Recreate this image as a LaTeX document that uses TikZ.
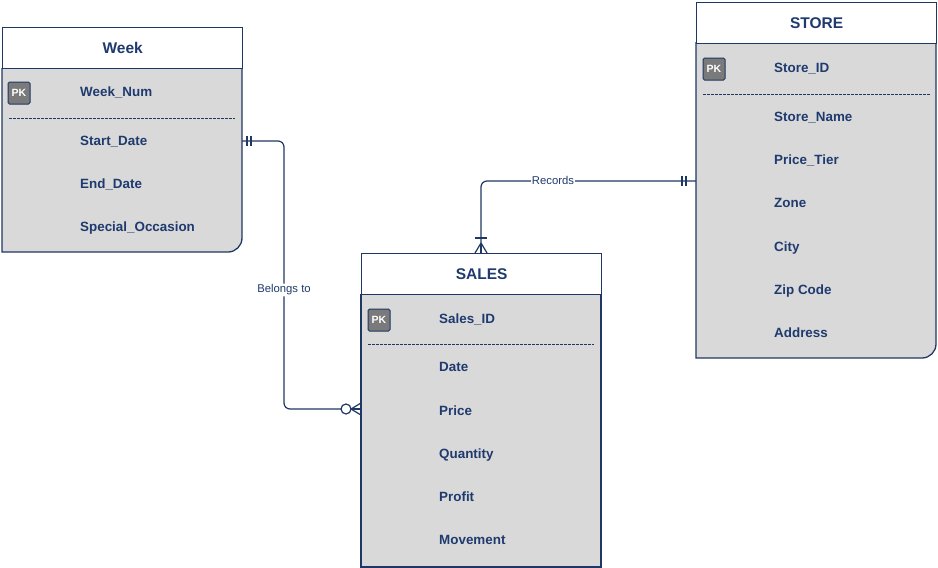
\documentclass[tikz,border=0pt]{standalone}
\usepackage{fontspec}
\setmainfont{Liberation Sans}
\usetikzlibrary{positioning,calc}

\definecolor{navy}{HTML}{1F3764}
\definecolor{inktext}{HTML}{1E3A6E}
\definecolor{bodygray}{HTML}{D9D9D9}
\definecolor{pkgray}{HTML}{7A7A7A}

\tikzset{
  tablehead/.style={draw=navy, line width=1.3pt, fill=white, minimum width=240pt,
    minimum height=41pt, inner sep=0pt, font=\fontsize{15.5}{17}\selectfont\bfseries,
    text=inktext},
  field/.style={anchor=base west, inner sep=0pt, yshift=-4.8pt,
    font=\fontsize{13.4}{15}\selectfont\bfseries, text=inktext},
  pkbox/.style={draw=navy, line width=1pt, fill=pkgray, rounded corners=1.5pt,
    minimum width=22pt, minimum height=22pt, inner sep=0pt, text=white,
    font=\fontsize{10.5}{12}\selectfont\bfseries},
  link/.style={draw=navy, line width=1.2pt, rounded corners=6pt},
  linklabel/.style={fill=white, inner sep=1pt, text=inktext,
    font=\fontsize{11.3}{13}\selectfont},
  endmark/.style={draw=navy, line width=1.2pt}
}

\begin{document}
\begin{tikzpicture}[x=1pt, y=-1pt]
\useasboundingbox (0,0) rectangle (938,568);

% Week table
\fill[bodygray] (2,68) -- (242,68) -- (242,238) to[out=-90,in=0] (228,252) -- (2,252) -- cycle;
\draw[navy, line width=1.3pt] (2,68) -- (2,252) -- (228,252) to[out=0,in=-90] (242,238) -- (242,68);
\node[tablehead, anchor=north west] (week) at (2,27) {Week};
\node[pkbox] (weekpk) at (19,93) {PK};
\draw[navy, line width=0.8pt, dash pattern=on 2.5pt off 1.5pt] (9,118) -- (235,118);
\foreach \y/\name/\txt in {92/weeknum/Week\_Num, 141/weekstart/Start\_Date,
                           184/weekend/End\_Date, 227/weekocc/Special\_Occasion}
  \node[field] (\name) at (80,\y) {\txt};

% STORE table
\fill[bodygray] (696,42) -- (936,42) -- (936,344) to[out=-90,in=0] (922,358) -- (696,358) -- cycle;
\draw[navy, line width=1.3pt] (696,42) -- (696,358) -- (922,358) to[out=0,in=-90] (936,344) -- (936,42);
\node[tablehead, anchor=north west] (store) at (696,2) {STORE};
\node[pkbox] (storepk) at (714,69) {PK};
\draw[navy, line width=0.8pt, dash pattern=on 2.5pt off 1.5pt] (703,94) -- (930,94);
\foreach \y/\name/\txt in {68/storeid/Store\_ID, 117/storename/Store\_Name,
                           160/storetier/Price\_Tier, 203/storezone/Zone,
                           247/storecity/City, 290/storezip/Zip Code, 333/storeaddr/Address}
  \node[field] (\name) at (774,\y) {\txt};

% SALES table
\fill[bodygray] (361,294) rectangle (601,567);
\draw[navy, line width=1.3pt] (361,294) -- (361,567) -- (601,567) -- (601,294);
\node[tablehead, anchor=north west] (sales) at (361,253) {SALES};
\node[pkbox] (salespk) at (379,320) {PK};
\draw[navy, line width=0.8pt, dash pattern=on 2.5pt off 1.5pt] (368,344) -- (594,344);
\foreach \y/\name/\txt in {319/salesid/Sales\_ID, 367/salesdate/Date, 411/salesprice/Price,
                           454/salesqty/Quantity, 497/salesprofit/Profit, 540/salesmove/Movement}
  \node[field] (\name) at (439,\y) {\txt};

% end points of the links
\coordinate (wk) at (242,141);
\coordinate (sl) at (361,409);
\coordinate (st) at (696,181);
\coordinate (sb) at (481,253);

% Week -> SALES
\draw[link] (wk) -- ++(42,0) coordinate (wkbend) |- (sl)
  node[pos=0.278, linklabel] {Belongs to};
\draw[endmark] ($(wk)+(5,-5)$) -- ++(0,10);
\draw[endmark] ($(wk)+(9,-5)$) -- ++(0,10);
\draw[endmark, fill=white] ($(sl)+(-15,0)$) circle (5pt);
\draw[endmark] ($(sl)+(-10,0)$) -- ($(sl)+(0,-6)$);
\draw[endmark] ($(sl)+(-10,0)$) -- (sl);
\draw[endmark] ($(sl)+(-10,0)$) -- ($(sl)+(0,6)$);

% STORE -> SALES
\draw[link] (st) -| (sb);
\node[linklabel] (reclabel) at (553,180) {Records};
\draw[endmark] ($(st)+(-10,-5)$) -- ++(0,10);
\draw[endmark] ($(st)+(-14,-5)$) -- ++(0,10);
\draw[endmark] ($(sb)+(-6,-15)$) -- ++(12,0);
\draw[endmark] ($(sb)+(0,-10)$) -- ($(sb)+(-6,0)$);
\draw[endmark] ($(sb)+(0,-10)$) -- (sb);
\draw[endmark] ($(sb)+(0,-10)$) -- ($(sb)+(6,0)$);
\end{tikzpicture}
\end{document}
